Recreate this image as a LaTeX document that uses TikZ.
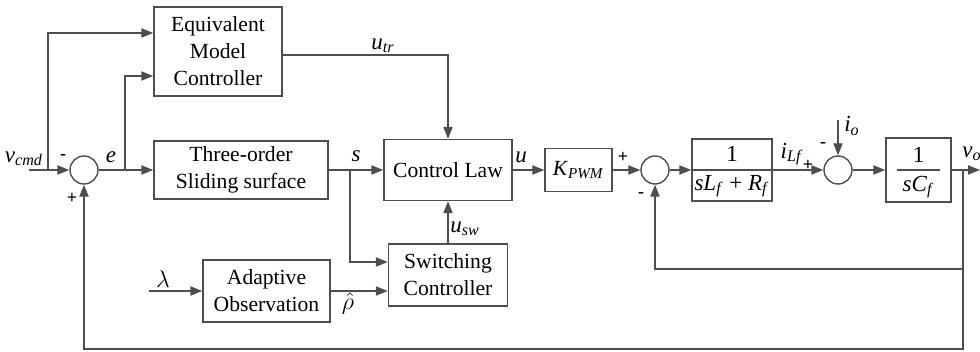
\documentclass[tikz,border=0pt]{standalone}
\usepackage{fontspec}
\setmainfont{Liberation Serif}
\usetikzlibrary{arrows.meta}
\definecolor{wireGray}{RGB}{78,78,78}
\newcommand{\sigName}[2]{\textit{#1}\textsubscript{\textit{#2}}}
\tikzset{
    ctrlBox/.style={
        draw=wireGray,
        line width=0.7pt,
        align=center,
        inner sep=1pt,
        font=\rmfamily\fontsize{10.8}{13.5}\selectfont
    },
    sumNode/.style={
        draw=wireGray,
        line width=0.7pt,
        circle,
        minimum size=14pt,
        inner sep=0pt
    },
    ctrlArrow/.style={
        -{Triangle[length=6pt,width=4.6pt]},
        line width=0.7pt,
        draw=wireGray
    },
    ctrlLine/.style={
        line width=0.7pt,
        draw=wireGray
    },
    sigLabel/.style={
        inner sep=0pt,
        font=\rmfamily\fontsize{11.5}{13}\selectfont
    },
    signLabel/.style={
        inner sep=0pt,
        font=\rmfamily\fontsize{9}{10}\selectfont\bfseries
    }
}

\begin{document}
\begin{tikzpicture}[x=0.5pt,y=-0.5pt]
        \useasboundingbox (0,0) rectangle (980,352);

        % blocks
        \node[ctrlBox,minimum width=64pt,minimum height=44.5pt] (emc) at (218,51.5) {Equivalent\\Model\\Controller};
        \node[ctrlBox,minimum width=87pt,minimum height=29pt] (tos) at (241,170) {Three-order\\Sliding surface};
        \node[ctrlBox,minimum width=64pt,minimum height=30.5pt] (law) at (448,170) {Control Law};
        \node[ctrlBox,minimum width=33.5pt,minimum height=21.5pt] (kpwm) at (578.5,170) {\sigName{K}{PWM}};
        \node[ctrlBox,minimum width=40pt,minimum height=31pt] (plant1) at (732,170) {};
        \node[ctrlBox,minimum width=32.5pt,minimum height=32pt] (plant2) at (918.5,170) {};
        \node[ctrlBox,minimum width=59.5pt,minimum height=31pt] (swc) at (448,275) {Switching\\Controller};
        \node[ctrlBox,minimum width=63.5pt,minimum height=31pt] (ado) at (266.5,291) {Adaptive\\Observation};

        % transfer functions
        \draw[ctrlLine] (plant1.west) -- (plant1.east);
        \node[sigLabel] (p1num) at (732,154) {1};
        \node[sigLabel] (p1den) at (732,186) {\sigName{sL}{f} + \sigName{R}{f}};
        \draw[ctrlLine] (897,170) -- (940,170);
        \node[sigLabel] (p2num) at (918.5,155) {1};
        \node[sigLabel] (p2den) at (918.5,187) {\sigName{sC}{f}};

        % summing junctions
        \node[sumNode] (s1) at (84,170) {};
        \node[sumNode] (s2) at (655,170) {};
        \node[sumNode] (s3) at (838,170) {};

        % branch and end points
        \coordinate (vin) at (29,170);
        \coordinate (vbr) at (48,170);
        \coordinate (vbrTop) at (48,33);
        \coordinate (ebr) at (125,170);
        \coordinate (ebrTop) at (125,76);
        \coordinate (utrRow) at (0,55);
        \coordinate (sbr) at (350,170);
        \coordinate (sRow) at (0,262);
        \coordinate (lam) at (149,291);
        \coordinate (ioin) at (838,120);
        \coordinate (vout) at (980,170);
        \coordinate (fbTap) at (963,170);
        \coordinate (fbIn) at (963,269);
        \coordinate (fbOut) at (963,349);

        % signals
        \draw[ctrlArrow] (vin) -- (s1);
        \draw[ctrlArrow] (vbr) -- (vbrTop) -- (emc.west |- vbrTop);
        \draw[ctrlArrow] (s1) -- (tos);
        \draw[ctrlArrow] (ebr) -- (ebrTop) -- (emc.west |- ebrTop);
        \draw[ctrlArrow] (emc.east |- utrRow) -| (law.north);
        \draw[ctrlArrow] (tos) -- (law);
        \draw[ctrlArrow] (sbr) |- (swc.west |- sRow);
        \draw[ctrlArrow] (lam) -- (ado);
        \draw[ctrlArrow] (ado.east) -- (swc.west |- ado.east);
        \draw[ctrlArrow] (swc.north) -- (law.south);
        \draw[ctrlArrow] (law) -- (kpwm);
        \draw[ctrlArrow] (kpwm) -- (s2);
        \draw[ctrlArrow] (s2) -- (plant1);
        \draw[ctrlArrow] (plant1) -- (s3);
        \draw[ctrlArrow] (ioin) -- (s3);
        \draw[ctrlArrow] (s3) -- (plant2);
        \draw[ctrlArrow] (plant2) -- (vout);
        \draw[ctrlArrow] (fbTap) -- (fbIn) -| (s2.south);
        \draw[ctrlArrow] (fbIn) -- (fbOut) -| (s1.south);

        % signal names
        \node[sigLabel] (lvcmd) at (24,159) {\sigName{v}{cmd}};
        \node[sigLabel] (le) at (111,157) {\textit{e}};
        \node[sigLabel] (lutr) at (383,46) {\sigName{u}{tr}};
        \node[sigLabel] (ls) at (356,156) {\textit{s}};
        \node[sigLabel] (lu) at (521,157) {\textit{u}};
        \node[sigLabel] (lilf) at (792,154) {\sigName{i}{Lf}};
        \node[sigLabel] (lio) at (852,126) {\sigName{i}{o}};
        \node[sigLabel] (lvo) at (972,154) {\sigName{v}{o}};
        \node[sigLabel] (llam) at (163,279) {$\lambda$};
        \node[sigLabel] (lrho) at (348,304) {$\hat{\rho}$};
        \node[sigLabel] (lusw) at (465,229) {\sigName{u}{sw}};

        % signs
        \node[signLabel] (m1) at (63,157) {-};
        \node[signLabel] (p1) at (72,198) {+};
        \node[signLabel] (p2) at (623,157) {+};
        \node[signLabel] (m2) at (641,195) {-};
        \node[signLabel] (p3) at (808,165) {+};
        \node[signLabel] (m3) at (823,145) {-};
    \end{tikzpicture}
\end{document}
